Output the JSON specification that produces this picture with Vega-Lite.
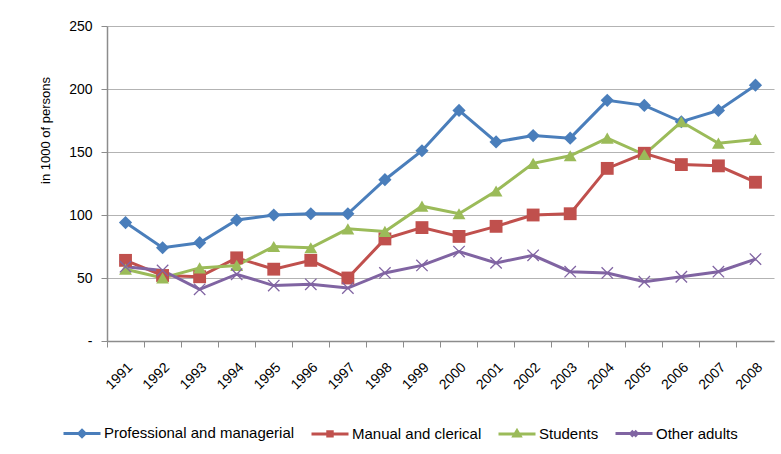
{
  "$schema": "https://vega.github.io/schema/vega-lite/v6.json",
  "width": 667,
  "height": 315,
  "autosize": {"type": "none"},
  "padding": {"left": 107, "top": 26, "right": 7, "bottom": 113},
  "background": "white",
  "config": {"view": {"stroke": null}, "font": "Liberation Sans"},
  "datasets": {
    "d": [
      {"Year": "1991", "Series": "Professional and managerial", "Value": 94},
      {"Year": "1992", "Series": "Professional and managerial", "Value": 74},
      {"Year": "1993", "Series": "Professional and managerial", "Value": 78},
      {"Year": "1994", "Series": "Professional and managerial", "Value": 96},
      {"Year": "1995", "Series": "Professional and managerial", "Value": 100},
      {"Year": "1996", "Series": "Professional and managerial", "Value": 101},
      {"Year": "1997", "Series": "Professional and managerial", "Value": 101},
      {"Year": "1998", "Series": "Professional and managerial", "Value": 128},
      {"Year": "1999", "Series": "Professional and managerial", "Value": 151},
      {"Year": "2000", "Series": "Professional and managerial", "Value": 183},
      {"Year": "2001", "Series": "Professional and managerial", "Value": 158},
      {"Year": "2002", "Series": "Professional and managerial", "Value": 163},
      {"Year": "2003", "Series": "Professional and managerial", "Value": 161},
      {"Year": "2004", "Series": "Professional and managerial", "Value": 191},
      {"Year": "2005", "Series": "Professional and managerial", "Value": 187},
      {"Year": "2006", "Series": "Professional and managerial", "Value": 174},
      {"Year": "2007", "Series": "Professional and managerial", "Value": 183},
      {"Year": "2008", "Series": "Professional and managerial", "Value": 203},
      {"Year": "1991", "Series": "Manual and clerical", "Value": 64},
      {"Year": "1992", "Series": "Manual and clerical", "Value": 52},
      {"Year": "1993", "Series": "Manual and clerical", "Value": 51},
      {"Year": "1994", "Series": "Manual and clerical", "Value": 66},
      {"Year": "1995", "Series": "Manual and clerical", "Value": 57},
      {"Year": "1996", "Series": "Manual and clerical", "Value": 64},
      {"Year": "1997", "Series": "Manual and clerical", "Value": 50},
      {"Year": "1998", "Series": "Manual and clerical", "Value": 81},
      {"Year": "1999", "Series": "Manual and clerical", "Value": 90},
      {"Year": "2000", "Series": "Manual and clerical", "Value": 83},
      {"Year": "2001", "Series": "Manual and clerical", "Value": 91},
      {"Year": "2002", "Series": "Manual and clerical", "Value": 100},
      {"Year": "2003", "Series": "Manual and clerical", "Value": 101},
      {"Year": "2004", "Series": "Manual and clerical", "Value": 137},
      {"Year": "2005", "Series": "Manual and clerical", "Value": 149},
      {"Year": "2006", "Series": "Manual and clerical", "Value": 140},
      {"Year": "2007", "Series": "Manual and clerical", "Value": 139},
      {"Year": "2008", "Series": "Manual and clerical", "Value": 126},
      {"Year": "1991", "Series": "Students", "Value": 57},
      {"Year": "1992", "Series": "Students", "Value": 50},
      {"Year": "1993", "Series": "Students", "Value": 58},
      {"Year": "1994", "Series": "Students", "Value": 60},
      {"Year": "1995", "Series": "Students", "Value": 75},
      {"Year": "1996", "Series": "Students", "Value": 74},
      {"Year": "1997", "Series": "Students", "Value": 89},
      {"Year": "1998", "Series": "Students", "Value": 87},
      {"Year": "1999", "Series": "Students", "Value": 107},
      {"Year": "2000", "Series": "Students", "Value": 101},
      {"Year": "2001", "Series": "Students", "Value": 119},
      {"Year": "2002", "Series": "Students", "Value": 141},
      {"Year": "2003", "Series": "Students", "Value": 147},
      {"Year": "2004", "Series": "Students", "Value": 161},
      {"Year": "2005", "Series": "Students", "Value": 148},
      {"Year": "2006", "Series": "Students", "Value": 174},
      {"Year": "2007", "Series": "Students", "Value": 157},
      {"Year": "2008", "Series": "Students", "Value": 160},
      {"Year": "1991", "Series": "Other adults", "Value": 59},
      {"Year": "1992", "Series": "Other adults", "Value": 56},
      {"Year": "1993", "Series": "Other adults", "Value": 41},
      {"Year": "1994", "Series": "Other adults", "Value": 53},
      {"Year": "1995", "Series": "Other adults", "Value": 44},
      {"Year": "1996", "Series": "Other adults", "Value": 45},
      {"Year": "1997", "Series": "Other adults", "Value": 42},
      {"Year": "1998", "Series": "Other adults", "Value": 54},
      {"Year": "1999", "Series": "Other adults", "Value": 60},
      {"Year": "2000", "Series": "Other adults", "Value": 71},
      {"Year": "2001", "Series": "Other adults", "Value": 62},
      {"Year": "2002", "Series": "Other adults", "Value": 68},
      {"Year": "2003", "Series": "Other adults", "Value": 55},
      {"Year": "2004", "Series": "Other adults", "Value": 54},
      {"Year": "2005", "Series": "Other adults", "Value": 47},
      {"Year": "2006", "Series": "Other adults", "Value": 51},
      {"Year": "2007", "Series": "Other adults", "Value": 55},
      {"Year": "2008", "Series": "Other adults", "Value": 65}
    ]
  },
  "data": {"name": "d"},
  "encoding": {
    "x": {
      "field": "Year",
      "type": "ordinal",
      "scale": {"type": "band", "paddingInner": 0, "paddingOuter": 0},
      "axis": {
        "title": null,
        "labelAngle": -45,
        "labelFontSize": 14,
        "labelColor": "#000000",
        "domainColor": "#8c8c8c",
        "domainWidth": 1.5,
        "tickColor": "#8c8c8c",
        "tickWidth": 1,
        "tickSize": 6,
        "bandPosition": 0,
        "labelPadding": 13,
        "grid": false
      }
    },
    "y": {
      "field": "Value",
      "type": "quantitative",
      "scale": {"domain": [0, 250]},
      "axis": {
        "title": "in 1000 of persons",
        "titleFontSize": 13,
        "titleFontWeight": "normal",
        "titleColor": "#000000",
        "titleX": -62,
        "titleY": 104,
        "titleAngle": -90,
        "titleBaseline": "middle",
        "titleAlign": "center",
        "values": [0, 50, 100, 150, 200, 250],
        "labelExpr": "datum.value == 0 ? '-' : datum.label",
        "labelFontSize": 14,
        "labelColor": "#000000",
        "labelPadding": 9,
        "domainColor": "#8c8c8c",
        "domainWidth": 1.5,
        "tickColor": "#8c8c8c",
        "tickSize": 6,
        "gridColor": "#b3b3b3",
        "gridWidth": 1.2
      }
    },
    "color": {
      "field": "Series",
      "type": "nominal",
      "scale": {
        "domain": ["Professional and managerial", "Manual and clerical", "Students", "Other adults"],
        "range": ["#4a7ebb", "#c0504d", "#9bbb59", "#8064a2"]
      },
      "legend": {
        "orient": "none",
        "legendX": -45,
        "legendY": 387,
        "direction": "horizontal",
        "columns": 4,
        "title": null,
        "symbolSize": 1369,
        "symbolStrokeWidth": 3,
        "labelFontSize": 15,
        "labelColor": "#000000",
        "labelOffset": 2,
        "labelLimit": 400,
        "columnPadding": 10,
        "padding": 0,
        "encode": {
          "symbols": {
            "update": {
              "fill": {"scale": "color", "field": "value"},
              "stroke": {"scale": "color", "field": "value"},
              "strokeWidth": {"value": 3},
              "opacity": {"value": 1},
              "fillOpacity": {"value": 1},
              "strokeOpacity": {"value": 1}
            }
          }
        }
      }
    }
  },
  "layer": [
    {"mark": {"type": "line", "strokeWidth": 3}},
    {
      "transform": [{"filter": "datum.Series == 'Professional and managerial'"}],
      "mark": {"type": "point", "shape": "diamond", "filled": true, "opacity": 1, "size": 175}
    },
    {
      "transform": [{"filter": "datum.Series == 'Manual and clerical'"}],
      "mark": {"type": "point", "shape": "square", "filled": true, "opacity": 1, "size": 165}
    },
    {
      "transform": [{"filter": "datum.Series == 'Students'"}],
      "mark": {"type": "point", "shape": "triangle-up", "filled": true, "opacity": 1, "size": 165}
    },
    {
      "transform": [{"filter": "datum.Series == 'Other adults'"}],
      "mark": {"type": "point", "shape": "M-1,-1L1,1M-1,1L1,-1", "filled": false, "opacity": 1, "size": 130, "strokeWidth": 1.3}
    },
    {
      "mark": {"type": "point", "filled": true, "opacity": 0},
      "encoding": {
        "shape": {
          "field": "Series",
          "type": "nominal",
          "scale": {
            "domain": ["Professional and managerial", "Manual and clerical", "Students", "Other adults"],
            "range": [
              "M-1,0L1,0M0,-0.17L0.17,0L0,0.17L-0.17,0Z",
              "M-1,0L1,0M-0.12,-0.12H0.12V0.12H-0.12Z",
              "M-1,0L1,0M0,-0.17L0.17,0.12L-0.17,0.12Z",
              "M-1,0L1,0M-0.15,-0.15L0.15,0.15M-0.15,0.15L0.15,-0.15"
            ]
          }
        }
      }
    }
  ]
}
